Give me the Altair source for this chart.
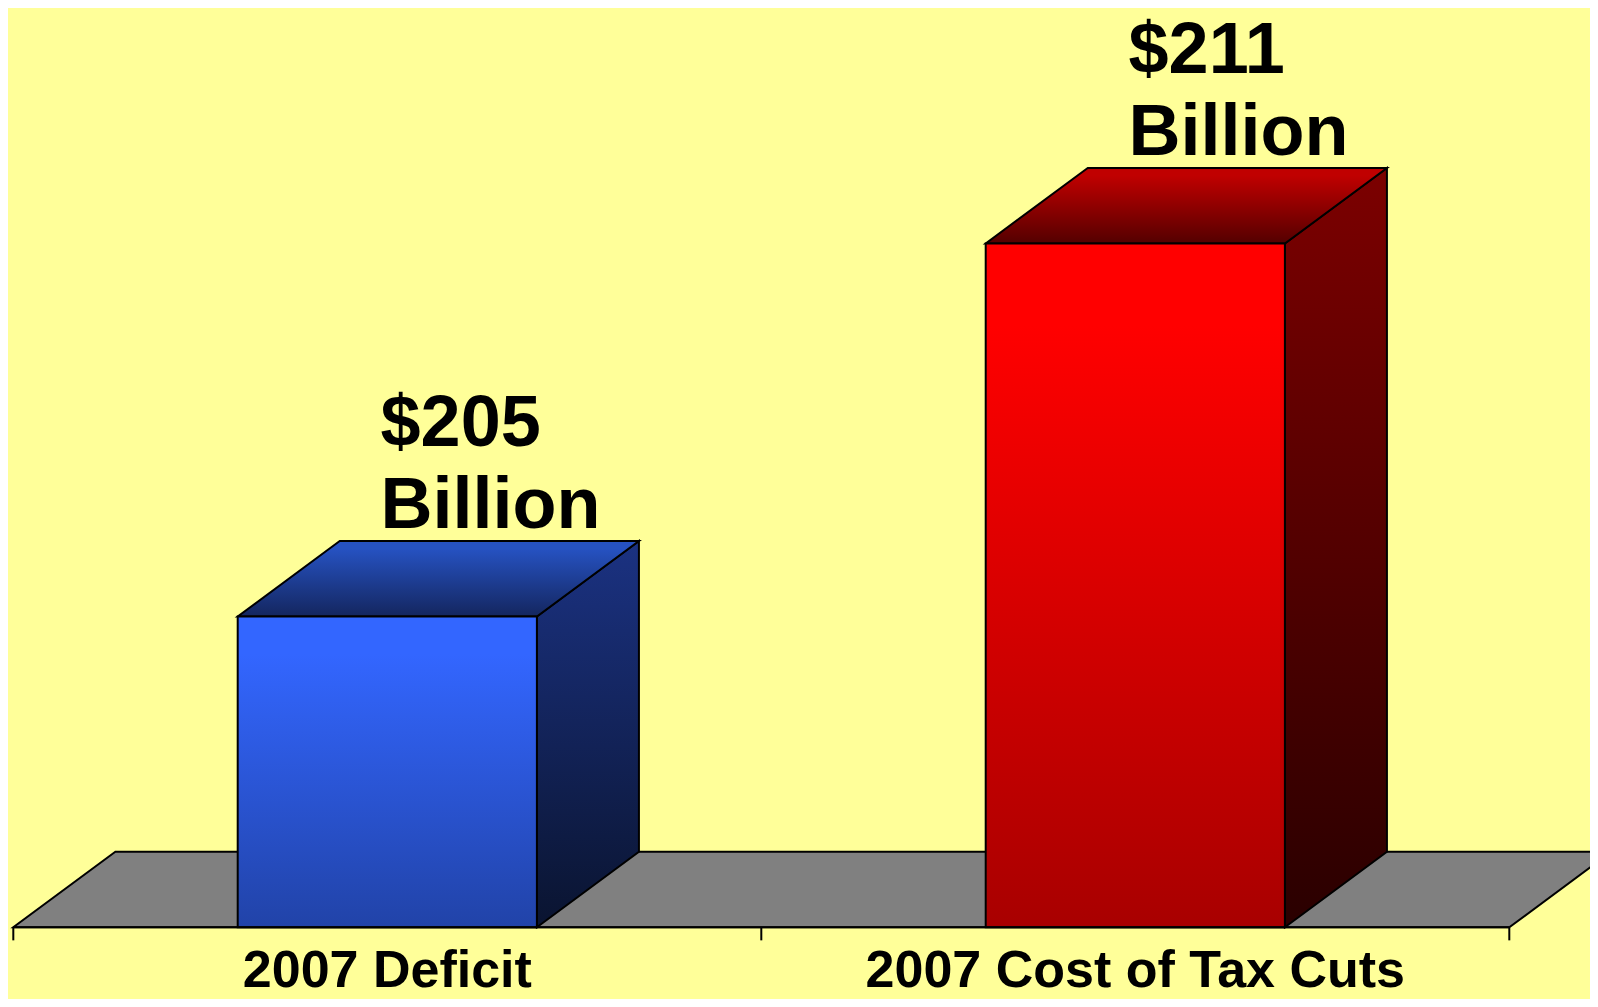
import altair as alt
import pandas as pd

# ---- data ----
categories = ["2007 Deficit", "2007 Cost of Tax Cuts"]
values = [205, 211]                  # $ billions
value_labels = ["$205", "$211"]
unit_labels = ["Billion", "Billion"]
centers = [0.5, 1.5]                 # category slots on the x axis
axis_ticks = [0, 1, 2]
base = 200                           # value axis starts here

# ---- colours (gradients) ----
front_top = ["#3366ff", "#ff0000"]
front_bottom = ["#2143a8", "#a80000"]
side_top = ["#1b3282", "#7c0000"]
side_bottom = ["#0a1430", "#2a0000"]
topface_back = ["#2652c2", "#c00000"]
topface_front = ["#14265f", "#540000"]

# ---- 3-D geometry (style) ----
HALF = 0.2        # half bar width, in category units
DX = 0.1364       # depth offset, x units
DY = 1.2144       # depth offset, value units
TICK = 0.21       # tick length, value units

X = alt.Scale(domain=[-0.00709, 2.10789], nice=False, zero=False)
Y = alt.Scale(domain=[198.8467, 214.787], nice=False, zero=False)
FONT = "Liberation Sans"


def grad(c1, c2, hold=0.0):
    stops = [alt.GradientStop(color=c1, offset=0)]
    if hold > 0:
        stops.append(alt.GradientStop(color=c1, offset=hold))
    stops.append(alt.GradientStop(color=c2, offset=1))
    return alt.Gradient(gradient="linear", stops=stops, x1=0, x2=0, y1=0, y2=1)


layers = []

# floor
floor_df = pd.DataFrame({"y": [base, base + DY], "x": [0, DX], "x2": [axis_ticks[-1], axis_ticks[-1] + DX]})
layers.append(
    alt.Chart(floor_df).mark_area(orient="horizontal", fill="#808080", stroke="black", strokeWidth=2).encode(
        y=alt.Y("y:Q", scale=Y, axis=None),
        x=alt.X("x:Q", scale=X, axis=None),
        x2="x2:Q",
    )
)

for i, (c, v) in enumerate(zip(centers, values)):
    side_df = pd.DataFrame({
        "x": [c + HALF, c + HALF + DX],
        "y": [base, base + DY],
        "y2": [v, v + DY],
    })
    layers.append(
        alt.Chart(side_df).mark_area(orient="vertical", fill=grad(side_top[i], side_bottom[i]),
                                     stroke="black", strokeWidth=2, strokeJoin="miter").encode(
            x=alt.X("x:Q", scale=X, axis=None),
            y=alt.Y("y:Q", scale=Y, axis=None),
            y2="y2:Q",
        )
    )
    top_df = pd.DataFrame({
        "y": [v, v + DY],
        "x": [c - HALF, c - HALF + DX],
        "x2": [c + HALF, c + HALF + DX],
    })
    layers.append(
        alt.Chart(top_df).mark_area(orient="horizontal", fill=grad(topface_back[i], topface_front[i], 0.1),
                                    stroke="black", strokeWidth=2, strokeJoin="miter").encode(
            y=alt.Y("y:Q", scale=Y, axis=None),
            x=alt.X("x:Q", scale=X, axis=None),
            x2="x2:Q",
        )
    )
    front_df = pd.DataFrame({"x": [c - HALF], "x2": [c + HALF], "y": [base], "y2": [v]})
    layers.append(
        alt.Chart(front_df).mark_rect(fill=grad(front_top[i], front_bottom[i], 0.12),
                                      stroke="black", strokeWidth=2).encode(
            x=alt.X("x:Q", scale=X, axis=None),
            x2="x2:Q",
            y=alt.Y("y:Q", scale=Y, axis=None),
            y2="y2:Q",
        )
    )

# axis line and ticks
axis_df = pd.DataFrame({"x": [axis_ticks[0]], "x2": [axis_ticks[-1]], "y": [base]})
layers.append(
    alt.Chart(axis_df).mark_rule(color="black", strokeWidth=2).encode(
        x=alt.X("x:Q", scale=X, axis=None), x2="x2:Q", y=alt.Y("y:Q", scale=Y, axis=None)
    )
)
tick_df = pd.DataFrame({"x": axis_ticks, "y": [base] * 3, "y2": [base - TICK] * 3})
layers.append(
    alt.Chart(tick_df).mark_rule(color="black", strokeWidth=2).encode(
        x=alt.X("x:Q", scale=X, axis=None), y=alt.Y("y:Q", scale=Y, axis=None), y2="y2:Q"
    )
)

# value labels
lab_df = pd.DataFrame({
    "x": [c - 0.009 for c in centers],
    "v": values,
    "l1": value_labels,
    "l2": unit_labels,
})
for field, off in [("l1", -170), ("l2", -88)]:
    layers.append(
        alt.Chart(lab_df).mark_text(align="left", baseline="alphabetic", dy=off, fontSize=72,
                                    fontWeight="bold", font=FONT, color="black").encode(
            x=alt.X("x:Q", scale=X, axis=None), y=alt.Y("v:Q", scale=Y, axis=None), text=f"{field}:N"
        )
    )

# category labels
cat_df = pd.DataFrame({"x": centers, "y": [base] * len(centers), "cat": categories})
layers.append(
    alt.Chart(cat_df).mark_text(align="center", baseline="alphabetic", dy=60, fontSize=52,
                                fontWeight="bold", font=FONT, color="black").encode(
        x=alt.X("x:Q", scale=X, axis=None), y=alt.Y("y:Q", scale=Y, axis=None), text="cat:N"
    )
)

chart = alt.layer(*layers).properties(
    width=1582, height=991, padding=0,
    autosize=alt.AutoSizeParams(type="none"),
    background="#ffff99",
).configure_view(stroke=None)

chart.save("out.html", embed_options={"renderer": "svg", "actions": False})
